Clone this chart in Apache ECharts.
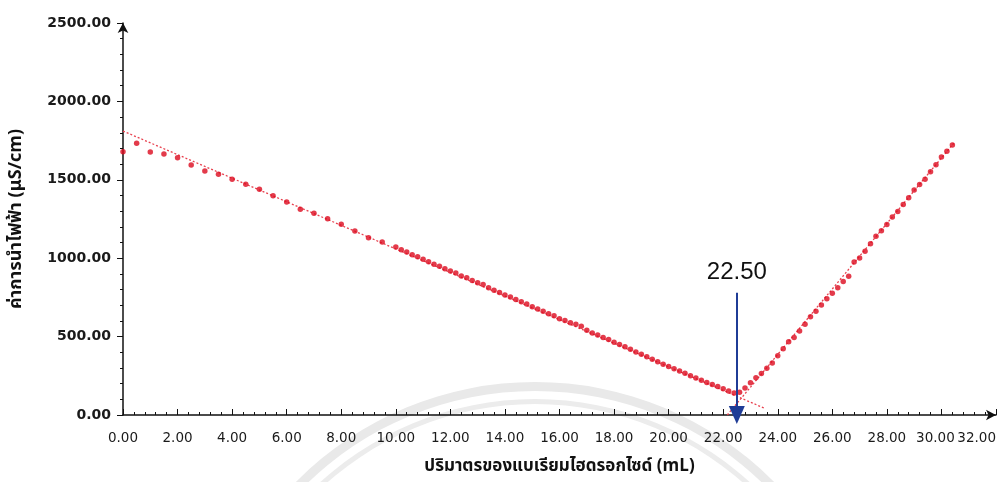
<!DOCTYPE html>
<html>
<head>
<meta charset="utf-8">
<script src="https://cdn.jsdelivr.net/npm/echarts@6/dist/echarts.min.js"></script>
<style>
  html, body { margin: 0; padding: 0; background: #ffffff; }
  #chart { width: 1004px; height: 482px; }
</style>
</head>
<body>
<div id="chart"></div>
<script>
// ---- data ----
const xAxisName = 'ปริมาตรของแบเรียมไฮดรอกไซด์ (mL)';
const yAxisName = 'ค่าการนำไฟฟ้า (μS/cm)';

// before the equivalence point (mL, μS/cm)
const leftX = [0, 0.5, 1.0, 1.5, 2.0, 2.5, 3.0, 3.5, 4.0, 4.5, 5.0, 5.5, 6.0, 6.5, 7.0, 7.5, 8.0, 8.5, 9.0, 9.5, 10.0,
  10.2, 10.4, 10.6, 10.8, 11.0, 11.2, 11.4, 11.6, 11.8, 12.0, 12.2, 12.4, 12.6, 12.8, 13.0, 13.2, 13.4, 13.6, 13.8, 14.0,
  14.2, 14.4, 14.6, 14.8, 15.0, 15.2, 15.4, 15.6, 15.8, 16.0, 16.2, 16.4, 16.6, 16.8, 17.0, 17.2, 17.4, 17.6, 17.8, 18.0,
  18.2, 18.4, 18.6, 18.8, 19.0, 19.2, 19.4, 19.6, 19.8, 20.0, 20.2, 20.4, 20.6, 20.8, 21.0, 21.2, 21.4, 21.6, 21.8, 22.0,
  22.2, 22.4];
const leftY = [1679, 1733, 1677, 1665, 1641, 1594, 1556, 1535, 1503, 1471, 1440, 1399, 1358, 1312, 1286, 1252, 1216, 1174, 1131, 1103, 1071,
  1054, 1040, 1022, 1010, 993, 978, 961, 948, 932, 918, 905, 887, 875, 857, 843, 833, 812, 796, 781, 766,
  752, 736, 722, 708, 691, 676, 662, 645, 633, 614, 602, 588, 578, 566, 540, 523, 510, 495, 481, 464,
  449, 436, 419, 402, 388, 372, 356, 340, 324, 310, 295, 281, 266, 250, 236, 222, 208, 195, 181, 168,
  153, 140];

// after the equivalence point
const rightX = [22.6, 22.8, 23.0, 23.2, 23.4, 23.6, 23.8, 24.0, 24.2, 24.4, 24.6, 24.8, 25.0, 25.2, 25.4, 25.6, 25.8, 26.0, 26.2, 26.4,
  26.6, 26.8, 27.0, 27.2, 27.4, 27.6, 27.8, 28.0, 28.2, 28.4, 28.6, 28.8, 29.0, 29.2, 29.4, 29.6, 29.8, 30.0, 30.2, 30.4];
const rightY = [145, 172, 206, 238, 265, 298, 332, 378, 423, 467, 495, 535, 578, 627, 662, 702, 742, 776, 812, 852,
  885, 975, 1002, 1045, 1092, 1140, 1175, 1215, 1262, 1298, 1343, 1385, 1435, 1470, 1503, 1552, 1596, 1645, 1682, 1722];

// fitted straight lines (end points)
const leftFitX = [0, 23.5];
const leftFitY = [1811, 44];
const rightFitX = [22.15, 30.45];
const rightFitY = [0, 1733];

// equivalence point annotation
const eqX = 22.5;
const eqLabel = '22.50';
const eqArrowY = [780, 0];

// axis ticks
const xMin = 0, xMax = 32, xStep = 2;
const yMin = 0, yMax = 2500, yStep = 500;

// ---- build chart ----
const zip = (xs, ys) => xs.map((x, i) => [x, ys[i]]);
const red = '#dc0a1e';
const fitRed = '#e8404e';
const thaiFont = 'Noto Sans Thai, Noto Sans, sans-serif';
const xFont = { fontFamily: 'DejaVu Sans', fontSize: 13.5, color: '#1a1a1a' };
const xLabelStyle = Object.assign({ margin: 16 }, xFont);

const chart = echarts.init(document.getElementById('chart'), null, { renderer: 'canvas' });
chart.setOption({
  animation: false,
  backgroundColor: '#ffffff',
  graphic: [
    { type: 'ring', z: -10, silent: true, shape: { cx: 535, cy: 718, r: 336, r0: 327 }, style: { fill: '#e9e9e9' } },
    { type: 'ring', z: -10, silent: true, shape: { cx: 535, cy: 718, r: 319, r0: 314 }, style: { fill: '#ececec' } }
  ],
  grid: { left: 123, right: 8, top: 23, bottom: 67, containLabel: false, outerBoundsMode: 'none' },
  xAxis: [
    {
      type: 'value', min: xMin, max: xMax, interval: xStep, position: 'bottom',
      name: xAxisName, nameLocation: 'middle', nameGap: 44,
      nameTextStyle: { fontFamily: thaiFont, fontSize: 17, fontWeight: 'bold', color: '#111' },
      axisLine: { show: true, onZero: false, lineStyle: { color: '#111', width: 1.5 }, symbol: ['none', 'arrow'], symbolSize: [8, 10] },
      axisTick: { show: true, inside: true, length: 6, lineStyle: { color: '#111' } },
      minorTick: { show: true, splitNumber: 5, length: 3, lineStyle: { color: '#111' } },
      splitLine: { show: false },
      axisLabel: Object.assign({}, xLabelStyle, {
        showMinLabel: true, showMaxLabel: false,
        rich: { s: Object.assign({ padding: [0, 12, 0, 0] }, xFont) },
        formatter: v => (v === xMax - xStep ? '{s|' + v.toFixed(2) + '}' : v.toFixed(2))
      })
    },
    {
      // carries only the last tick label, right-aligned to the axis end
      type: 'value', min: xMin, max: xMax, interval: xStep, position: 'bottom',
      axisLine: { show: false }, axisTick: { show: false }, minorTick: { show: false }, splitLine: { show: false },
      axisLabel: Object.assign({}, xLabelStyle, { showMinLabel: false, showMaxLabel: true, alignMaxLabel: 'right',
        formatter: v => (v === xMax ? v.toFixed(2) : '') })
    }
  ],
  yAxis: {
    type: 'value', min: yMin, max: yMax, interval: yStep,
    name: yAxisName, nameLocation: 'middle', nameGap: 97, nameRotate: 90,
    nameTextStyle: { fontFamily: thaiFont, fontSize: 18, fontWeight: 'bold', color: '#111' },
    axisLine: { show: true, onZero: false, lineStyle: { color: '#111', width: 1.5 }, symbol: ['none', 'arrow'], symbolSize: [8, 10] },
    axisTick: { show: true, inside: false, length: 6, lineStyle: { color: '#111' } },
    minorTick: { show: true, splitNumber: 5, length: 3, lineStyle: { color: '#111' } },
    splitLine: { show: false },
    axisLabel: { margin: 12, fontFamily: 'DejaVu Sans', fontSize: 14, fontWeight: 'bold', color: '#1a1a1a',
      formatter: v => v.toFixed(2) }
  },
  series: [
    {
      type: 'line', data: zip(leftFitX, leftFitY), symbol: 'none', silent: true, z: 1,
      lineStyle: { color: fitRed, width: 1.3, type: [2, 2] }
    },
    {
      type: 'line', data: zip(rightFitX, rightFitY), symbol: 'none', silent: true, z: 1,
      lineStyle: { color: fitRed, width: 1.3, type: [2, 2] }
    },
    {
      type: 'scatter', data: zip(leftX, leftY), symbol: 'circle', symbolSize: 5.5, z: 2,
      itemStyle: { color: red }
    },
    {
      type: 'scatter', data: zip(rightX, rightY), symbol: 'circle', symbolSize: 5.5, z: 2,
      itemStyle: { color: red },
      markLine: {
        silent: true, animation: false,
        symbol: ['none', 'triangle'], symbolSize: [16, 18],
        lineStyle: { color: '#1f3c96', width: 2, type: 'solid' },
        label: { show: true, position: 'start', formatter: eqLabel, distance: 8,
          fontFamily: 'Liberation Sans, Arial, sans-serif', fontSize: 24, color: '#111' },
        data: [[ { coord: [eqX, eqArrowY[0]] }, { coord: [eqX, eqArrowY[1]] } ]]
      }
    }
  ]
});
</script>
</body>
</html>
